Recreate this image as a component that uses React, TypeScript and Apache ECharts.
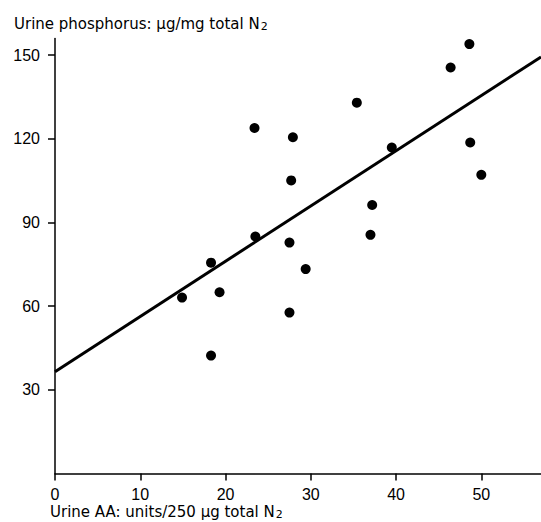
import React, { useEffect, useRef } from "react";
import * as echarts from "echarts";

const xTicks = [0, 10, 20, 30, 40, 50];
const yTicks = [30, 60, 90, 120, 150];
const urineAA = [14.9, 18.3, 19.3, 18.3, 23.4, 23.5, 27.5, 27.5, 27.7, 27.9, 29.4, 35.4, 37.0, 37.2, 39.5, 46.4, 48.6, 48.7, 50.0];
const urinePhosphorus = [63.1, 75.6, 65.0, 42.3, 123.9, 85.0, 82.8, 57.7, 105.1, 120.6, 73.3, 133.0, 85.6, 96.3, 116.9, 145.6, 154.0, 118.7, 107.1];
const lineX = [0, 57];
const lineY = [36.5, 149.4];
const yTitle = "Urine phosphorus: μg/mg total N";
const xTitle = "Urine AA: units/250 μg total N";

const FONT = "Liberation Sans";
const TFONT = "DejaVu Sans";

export default function App() {
  const ref = useRef<HTMLDivElement>(null);
  useEffect(() => {
    if (!ref.current) return;
    const chart = echarts.init(ref.current, null, { renderer: "svg" });
    const points = urineAA.map((x, i) => [x, urinePhosphorus[i]]);
    const line = lineX.map((x, i) => [x, lineY[i]]);
    chart.setOption({
      animation: false,
      backgroundColor: "#ffffff",
      grid: { left: 55, right: 0, top: 38.5, bottom: 48.5 },
      xAxis: {
        type: "value",
        min: 0,
        max: 57,
        interval: 10,
        splitLine: { show: false },
        axisLine: { show: true, lineStyle: { color: "#000", width: 1.5 } },
        axisTick: { show: true, customValues: xTicks, length: 7, inside: false, lineStyle: { color: "#000", width: 1.5 } },
        axisLabel: { customValues: xTicks, color: "#000", fontFamily: FONT, fontSize: 16, margin: 13 },
      },
      yAxis: {
        type: "value",
        min: 0,
        max: 156,
        interval: 30,
        splitLine: { show: false },
        axisLine: { show: true, lineStyle: { color: "#000", width: 1.5 } },
        axisTick: { show: true, customValues: yTicks, length: 7, inside: false, lineStyle: { color: "#000", width: 1.5 } },
        axisLabel: { customValues: yTicks, color: "#000", fontFamily: FONT, fontSize: 16, margin: 15 },
      },
      series: [
        {
          type: "line",
          data: line,
          symbol: "none",
          lineStyle: { color: "#000", width: 3 },
          z: 2,
        },
        {
          type: "scatter",
          data: points,
          symbol: "circle",
          symbolSize: 10,
          itemStyle: { color: "#000", opacity: 1 },
          z: 3,
        },
      ],
      graphic: [
        {
          type: "text",
          left: 14,
          top: 16,
          style: {
            text: yTitle + "{sub|2}",
            fill: "#000",
            font: `15px "${TFONT}"`,
            rich: { sub: { fontSize: 11, fontFamily: TFONT, verticalAlign: "bottom", padding: [6, 0, 0, 1] } },
          },
        },
        {
          type: "text",
          left: 50,
          top: 504,
          style: {
            text: xTitle + "{sub|2}",
            fill: "#000",
            font: `15px "${TFONT}"`,
            rich: { sub: { fontSize: 11, fontFamily: TFONT, verticalAlign: "bottom", padding: [6, 0, 0, 1] } },
          },
        },
      ],
    });
    return () => chart.dispose();
  }, []);
  return <div ref={ref} style={{ position: "fixed", left: 0, top: 0, width: 541, height: 522 }} />;
}
